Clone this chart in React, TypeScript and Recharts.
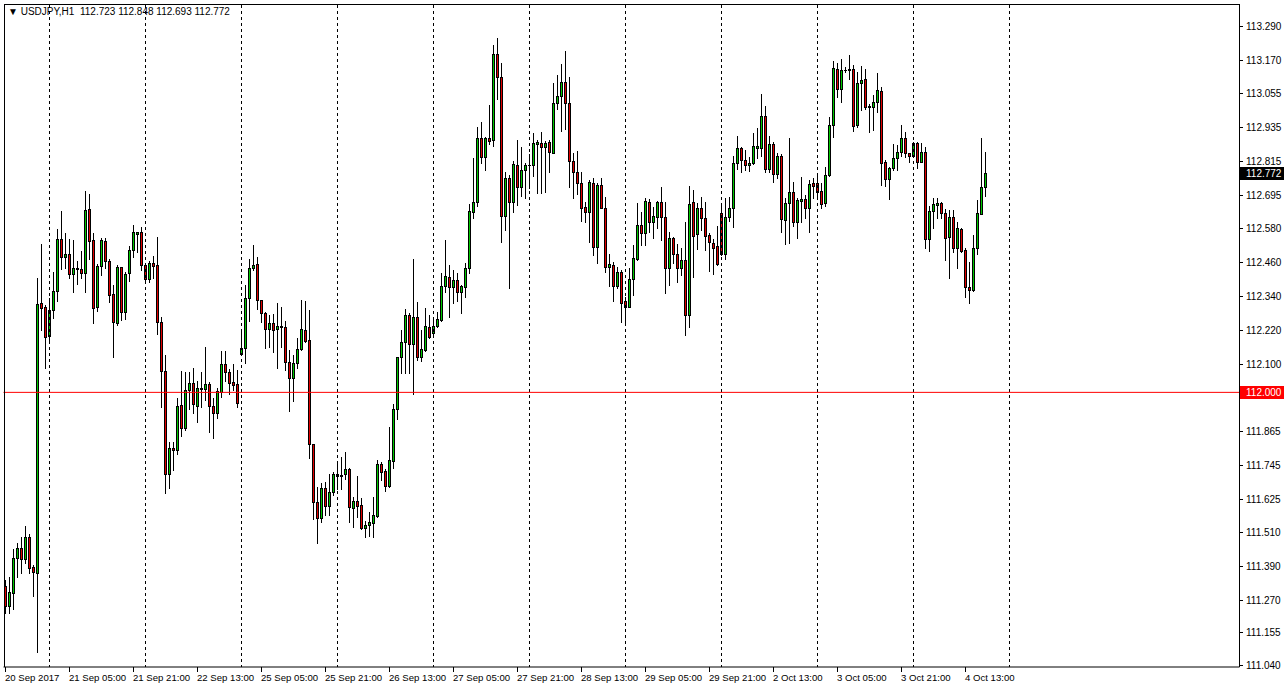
import React from 'react';
import { Bar, ComposedChart, ReferenceLine, XAxis, YAxis } from 'recharts';

// USDJPY H1, 20 Sep 2017 13:00 .. 4 Oct 2017 18:00 (246 bars)
const opens = [
  111.319, 111.249, 111.293, 111.416, 111.451, 111.412, 111.490, 111.384, 111.363, 112.314,
  112.300, 112.199, 112.290, 112.358, 112.539, 112.476, 112.487, 112.416, 112.437, 112.433,
  112.419, 112.646, 112.536, 112.302, 112.445, 112.533, 112.463, 112.345, 112.243, 112.440,
  112.284, 112.419, 112.501, 112.559, 112.563, 112.448, 112.398, 112.454, 112.448, 112.247,
  112.076, 111.711, 111.803, 111.796, 111.956, 111.876, 112.007, 112.033, 111.953, 112.015,
  112.013, 112.028, 111.953, 111.926, 112.002, 112.099, 112.073, 112.035, 112.030, 112.136,
  112.157, 112.331, 112.437, 112.451, 112.325, 112.278, 112.222, 112.243, 112.222, 112.234,
  112.229, 112.108, 112.052, 112.102, 112.152, 112.218, 112.183, 111.817, 111.615, 111.556,
  111.662, 111.601, 111.648, 111.707, 111.707, 111.713, 111.729, 111.592, 111.617, 111.603,
  111.521, 111.532, 111.541, 111.566, 111.747, 111.724, 111.671, 111.759, 111.940, 112.123,
  112.176, 112.272, 112.169, 112.264, 112.123, 112.149, 112.229, 112.208, 112.234, 112.255,
  112.374, 112.407, 112.372, 112.396, 112.354, 112.370, 112.438, 112.636, 112.671, 112.895,
  112.828, 112.895, 112.889, 113.191, 113.109, 112.622, 112.754, 112.671, 112.800, 112.724,
  112.783, 112.799, 112.800, 112.876, 112.877, 112.863, 112.880, 112.844, 113.018, 113.043,
  113.092, 113.018, 112.816, 112.775, 112.736, 112.652, 112.636, 112.738, 112.513, 112.730,
  112.650, 112.442, 112.448, 112.376, 112.425, 112.322, 112.302, 112.398, 112.469, 112.589,
  112.562, 112.669, 112.599, 112.619, 112.669, 112.619, 112.439, 112.542, 112.486, 112.437,
  112.465, 112.272, 112.669, 112.556, 112.648, 112.615, 112.554, 112.526, 112.515, 112.630,
  112.486, 112.619, 112.648, 112.807, 112.859, 112.817, 112.800, 112.809, 112.861, 112.861,
  112.974, 112.786, 112.873, 112.768, 112.832, 112.607, 112.666, 112.704, 112.599, 112.675,
  112.681, 112.650, 112.736, 112.736, 112.709, 112.666, 112.765, 112.941, 113.138, 113.067,
  113.135, 113.135, 113.138, 112.941, 113.088, 113.103, 113.008, 113.006, 113.021, 113.061,
  112.810, 112.750, 112.789, 112.824, 112.845, 112.895, 112.842, 112.833, 112.877, 112.812,
  112.845, 112.540, 112.640, 112.660, 112.666, 112.630, 112.548, 112.616, 112.509, 112.574,
  112.501, 112.372, 112.360, 112.507, 112.627, 112.723,
];

const highs = [
  111.339, 111.349, 111.447, 111.469, 111.490, 111.530, 111.501, 111.392, 112.402, 112.522,
  112.308, 112.331, 112.425, 112.575, 112.639, 112.560, 112.539, 112.536, 112.464, 112.498,
  112.709, 112.697, 112.560, 112.451, 112.542, 112.542, 112.470, 112.378, 112.448, 112.442,
  112.423, 112.516, 112.589, 112.563, 112.583, 112.452, 112.463, 112.481, 112.548, 112.266,
  112.132, 111.824, 111.824, 111.979, 112.075, 112.073, 112.071, 112.085, 112.040, 112.073,
  112.161, 112.038, 111.979, 112.014, 112.146, 112.146, 112.082, 112.099, 112.080, 112.223,
  112.378, 112.470, 112.519, 112.477, 112.325, 112.282, 112.272, 112.275, 112.314, 112.302,
  112.251, 112.149, 112.132, 112.190, 112.325, 112.322, 112.290, 111.817, 111.668, 111.680,
  111.685, 111.711, 111.719, 111.747, 111.771, 111.791, 111.733, 111.633, 111.705, 111.627,
  111.548, 111.580, 111.633, 111.762, 111.756, 111.729, 111.879, 111.959, 112.126, 112.220,
  112.293, 112.281, 112.469, 112.319, 112.220, 112.296, 112.272, 112.266, 112.284, 112.419,
  112.536, 112.447, 112.431, 112.421, 112.377, 112.454, 112.663, 112.826, 112.935, 112.953,
  112.898, 113.012, 113.223, 113.247, 113.159, 112.777, 112.765, 112.815, 112.889, 112.863,
  112.809, 112.839, 112.914, 112.889, 112.918, 112.885, 112.889, 113.088, 113.117, 113.155,
  113.202, 113.109, 112.844, 112.850, 112.777, 112.671, 112.748, 112.754, 112.736, 112.754,
  112.687, 112.486, 112.460, 112.442, 112.431, 112.337, 112.437, 112.519, 112.666, 112.636,
  112.683, 112.681, 112.654, 112.674, 112.724, 112.669, 112.566, 112.548, 112.521, 112.507,
  112.599, 112.728, 112.713, 112.666, 112.689, 112.669, 112.560, 112.540, 112.586, 112.660,
  112.685, 112.689, 112.833, 112.904, 112.865, 112.853, 112.830, 112.912, 112.932, 113.050,
  113.009, 112.904, 112.880, 112.842, 112.838, 112.685, 112.897, 112.742, 112.683, 112.759,
  112.695, 112.748, 112.754, 112.765, 112.736, 112.795, 112.971, 113.167, 113.159, 113.174,
  113.147, 113.188, 113.153, 113.129, 113.149, 113.138, 113.014, 113.047, 113.123, 113.076,
  112.818, 112.795, 112.873, 112.871, 112.941, 112.916, 112.844, 112.883, 112.880, 112.877,
  112.863, 112.657, 112.683, 112.685, 112.669, 112.646, 112.642, 112.642, 112.601, 112.578,
  112.507, 112.460, 112.554, 112.677, 112.897, 112.848,
];

const lows = [
  111.222, 111.224, 111.236, 111.349, 111.363, 111.398, 111.363, 111.284, 111.087, 112.220,
  112.085, 112.176, 112.261, 112.323, 112.433, 112.439, 112.402, 112.352, 112.382, 112.402,
  112.354, 112.470, 112.243, 112.287, 112.413, 112.437, 112.317, 112.126, 112.237, 112.255,
  112.258, 112.392, 112.478, 112.495, 112.431, 112.390, 112.390, 112.402, 112.204, 111.950,
  111.645, 111.662, 111.726, 111.783, 111.847, 111.867, 111.941, 111.926, 111.895, 111.950,
  111.973, 111.859, 111.840, 111.911, 111.984, 112.040, 111.993, 112.008, 111.950, 112.134,
  112.104, 112.251, 112.431, 112.294, 112.247, 112.155, 112.161, 112.141, 112.085, 112.161,
  112.079, 111.935, 111.971, 112.085, 112.149, 112.178, 111.768, 111.554, 111.468, 111.545,
  111.568, 111.568, 111.639, 111.659, 111.659, 111.694, 111.545, 111.525, 111.562, 111.518,
  111.490, 111.494, 111.490, 111.562, 111.691, 111.654, 111.668, 111.733, 111.905, 112.069,
  112.069, 112.069, 111.994, 112.114, 112.111, 112.147, 112.190, 112.196, 112.229, 112.252,
  112.354, 112.264, 112.316, 112.323, 112.281, 112.335, 112.421, 112.613, 112.656, 112.807,
  112.783, 112.874, 112.867, 113.033, 112.530, 112.572, 112.366, 112.636, 112.660, 112.691,
  112.683, 112.719, 112.763, 112.703, 112.703, 112.707, 112.777, 112.842, 112.998, 112.921,
  112.927, 112.722, 112.683, 112.698, 112.603, 112.601, 112.530, 112.484, 112.454, 112.648,
  112.425, 112.376, 112.322, 112.369, 112.247, 112.240, 112.302, 112.343, 112.466, 112.519,
  112.519, 112.566, 112.542, 112.578, 112.536, 112.349, 112.378, 112.454, 112.390, 112.413,
  112.202, 112.229, 112.407, 112.505, 112.572, 112.501, 112.428, 112.416, 112.448, 112.484,
  112.470, 112.603, 112.583, 112.786, 112.777, 112.783, 112.779, 112.805, 112.826, 112.833,
  112.775, 112.775, 112.740, 112.754, 112.566, 112.521, 112.525, 112.587, 112.542, 112.599,
  112.613, 112.564, 112.685, 112.689, 112.650, 112.657, 112.763, 112.900, 113.041, 113.021,
  113.129, 113.102, 112.920, 112.935, 112.994, 112.998, 112.916, 112.924, 112.988, 112.730,
  112.728, 112.681, 112.783, 112.783, 112.833, 112.830, 112.812, 112.830, 112.791, 112.810,
  112.507, 112.498, 112.580, 112.615, 112.613, 112.466, 112.404, 112.493, 112.437, 112.493,
  112.337, 112.314, 112.357, 112.486, 112.627, 112.693,
];

const closes = [
  111.249, 111.296, 111.416, 111.451, 111.412, 111.490, 111.381, 111.366, 112.311, 112.296,
  112.196, 112.290, 112.358, 112.539, 112.476, 112.487, 112.416, 112.437, 112.434, 112.419,
  112.642, 112.534, 112.298, 112.446, 112.536, 112.463, 112.343, 112.247, 112.442, 112.284,
  112.417, 112.501, 112.566, 112.563, 112.448, 112.398, 112.454, 112.446, 112.247, 112.076,
  111.711, 111.803, 111.796, 111.951, 111.876, 112.007, 112.033, 111.958, 112.014, 112.011,
  112.028, 111.953, 111.926, 112.005, 112.099, 112.071, 112.034, 112.027, 111.964, 112.155,
  112.331, 112.437, 112.448, 112.325, 112.278, 112.222, 112.243, 112.218, 112.233, 112.229,
  112.108, 112.049, 112.102, 112.152, 112.222, 112.182, 111.817, 111.615, 111.556, 111.662,
  111.601, 111.648, 111.711, 111.711, 111.710, 111.729, 111.595, 111.617, 111.601, 111.521,
  111.533, 111.543, 111.568, 111.747, 111.721, 111.671, 111.762, 111.940, 112.123, 112.176,
  112.272, 112.169, 112.264, 112.123, 112.152, 112.234, 112.194, 112.234, 112.257, 112.374,
  112.410, 112.372, 112.396, 112.352, 112.374, 112.438, 112.639, 112.671, 112.895, 112.828,
  112.895, 112.886, 113.191, 113.109, 112.622, 112.754, 112.671, 112.803, 112.724, 112.783,
  112.800, 112.800, 112.879, 112.880, 112.863, 112.877, 112.845, 113.018, 113.043, 113.092,
  113.018, 112.816, 112.775, 112.736, 112.650, 112.636, 112.742, 112.513, 112.730, 112.650,
  112.442, 112.452, 112.376, 112.425, 112.314, 112.302, 112.398, 112.472, 112.589, 112.562,
  112.674, 112.599, 112.621, 112.669, 112.619, 112.439, 112.542, 112.486, 112.439, 112.465,
  112.272, 112.662, 112.552, 112.650, 112.615, 112.552, 112.528, 112.509, 112.451, 112.486,
  112.619, 112.648, 112.807, 112.859, 112.818, 112.800, 112.809, 112.867, 112.867, 112.974,
  112.786, 112.873, 112.768, 112.832, 112.609, 112.666, 112.704, 112.599, 112.676, 112.681,
  112.650, 112.733, 112.728, 112.707, 112.662, 112.765, 112.941, 113.141, 113.067, 113.135,
  113.136, 113.138, 112.939, 113.088, 113.100, 113.004, 113.004, 113.023, 113.065, 112.807,
  112.750, 112.789, 112.824, 112.845, 112.895, 112.842, 112.833, 112.877, 112.812, 112.845,
  112.539, 112.640, 112.662, 112.666, 112.630, 112.545, 112.616, 112.509, 112.578, 112.498,
  112.372, 112.360, 112.507, 112.630, 112.722, 112.772,
];

// bar index of each time label, and the labels themselves
const timeTicks = [0, 16, 32, 48, 64, 80, 96, 112, 128, 144, 160, 176, 192, 208, 224, 240];
const timeLabels = [
  '20 Sep 2017', '21 Sep 05:00', '21 Sep 21:00', '22 Sep 13:00', '25 Sep 05:00', '25 Sep 21:00',
  '26 Sep 13:00', '27 Sep 05:00', '27 Sep 21:00', '28 Sep 13:00', '29 Sep 05:00', '29 Sep 21:00',
  '2 Oct 13:00', '3 Oct 05:00', '3 Oct 21:00', '4 Oct 13:00',
];
// first bar of each trading day (period separators)
const dayStarts = [11, 35, 59, 83, 107, 131, 155, 179, 203, 227, 251];

const priceTicks = [
  113.29, 113.17, 113.055, 112.935, 112.815, 112.695, 112.58, 112.46, 112.34, 112.22, 112.1,
  111.865, 111.745, 111.625, 111.51, 111.39, 111.27, 111.155, 111.04,
];
const levelPrice = 112.0;
const lastPrice = 112.772;

const SLOTS = 309; // bars + empty chart shift on the right
const W = 1286;
const H = 691;
const FONT = '"Liberation Sans", Arial, sans-serif';
const BULL = '#00c800';
const BEAR = '#e00000';

const rows = Array.from({ length: SLOTS }, (_, i) =>
  i < closes.length
    ? { i, range: [lows[i], highs[i]], open: opens[i], high: highs[i], low: lows[i], close: closes[i] }
    : { i }
);

const Candle = (props: any) => {
  const { x, y, width, height, payload } = props;
  if (!payload || payload.close == null) return null;
  const { open, close, high, low } = payload;
  const top = Math.min(y, y + height);
  const h = Math.abs(height);
  const span = high - low;
  const toY = (v: number) => (span > 0 ? top + ((high - v) / span) * h : top);
  const px = Math.floor(x + width / 2);
  const yh = Math.round(toY(high));
  const yl = Math.round(toY(low));
  const yo = Math.round(toY(open));
  const yc = Math.round(toY(close));
  const bTop = Math.min(yo, yc);
  const bBot = Math.max(yo, yc);
  const fill = close >= open ? BULL : BEAR;
  return (
    <g>
      <line x1={px + 0.5} x2={px + 0.5} y1={yh} y2={yl + 1} stroke="#000" strokeWidth={1} />
      {bBot - bTop < 2 ? (
        <rect x={px - 1} y={bTop} width={3} height={Math.max(1, bBot - bTop + 1)} fill="#000" />
      ) : (
        <rect x={px - 0.5} y={bTop + 0.5} width={2} height={bBot - bTop} fill={fill} stroke="#000" strokeWidth={1} />
      )}
    </g>
  );
};

const TimeTick = (props: any) => {
  const { x, payload } = props;
  const k = timeTicks.indexOf(payload.value);
  if (k < 0) return null;
  const px = Math.floor(x);
  return (
    <g>
      <line x1={px + 0.5} x2={px + 0.5} y1={667} y2={672} stroke="#000" />
      <text x={px} y={681} fontSize={9.6} fontFamily={FONT} fill="#000">
        {timeLabels[k]}
      </text>
    </g>
  );
};

const PriceTick = (props: any) => {
  const { y, payload } = props;
  const py = Math.round(y);
  return (
    <g>
      <line x1={1239} x2={1243} y1={py + 0.5} y2={py + 0.5} stroke="#000" />
      <text x={1246} y={py + 4} fontSize={10} fontFamily={FONT} fill="#000">
        {payload.value.toFixed(3)}
      </text>
    </g>
  );
};

const priceTag = (text: string, bg: string) => (p: any) => {
  const vb = p.viewBox || {};
  const py = Math.round(vb.y);
  return (
    <g>
      <rect x={1240} y={py - 6} width={44} height={13} fill={bg} />
      <text x={1246} y={py + 4} fontSize={10} fontFamily={FONT} fill="#fff">
        {text}
      </text>
    </g>
  );
};

const sepShape = (p: any) => {
  const px = Math.floor(p.x1) + 0.5;
  return <line x1={px} x2={px} y1={5} y2={667} stroke="#000" strokeDasharray="3 3" strokeWidth={1} />;
};

export default function App() {
  return (
    <div style={{ position: 'absolute', left: 0, top: 0, width: W, height: H, background: '#fff' }}>
      <ComposedChart
        width={W}
        height={H}
        data={rows}
        margin={{ top: 5, right: 0, bottom: 0, left: 3.5 }}
        barCategoryGap={0}
        barGap={0}
      >
        <XAxis
          dataKey="i"
          type="category"
          ticks={timeTicks}
          interval={0}
          tick={<TimeTick />}
          tickLine={false}
          axisLine={{ stroke: '#000' }}
          height={24}
        />
        <YAxis
          orientation="right"
          type="number"
          domain={[111.033, 113.364]}
          allowDataOverflow
          ticks={priceTicks}
          interval={0}
          tick={<PriceTick />}
          tickLine={false}
          axisLine={{ stroke: '#000' }}
          width={46.5}
        />
        {dayStarts.map((d) => (
          <ReferenceLine key={d} x={d} stroke="#000" shape={sepShape} ifOverflow="extendDomain" />
        ))}
        <Bar dataKey="range" shape={<Candle />} isAnimationActive={false} />
        <ReferenceLine y={levelPrice} stroke="#ff0000" strokeWidth={1} label={priceTag('112.000', '#ff0000')} />
        <ReferenceLine y={lastPrice} stroke="none" label={priceTag(lastPrice.toFixed(3), '#000')} />
      </ComposedChart>
      <div
        style={{
          position: 'absolute',
          left: 4,
          top: 4,
          width: 1235,
          height: 662,
          borderLeft: '1px solid #000',
          borderTop: '1px solid #000',
          pointerEvents: 'none',
        }}
      />
      <div
        style={{
          position: 'absolute',
          left: 8,
          top: 6,
          fontFamily: FONT,
          fontSize: 10,
          color: '#000',
          whiteSpace: 'pre',
        }}
      >
        {'\u25BC USDJPY,H1  112.723 112.848 112.693 112.772'}
      </div>
    </div>
  );
}
